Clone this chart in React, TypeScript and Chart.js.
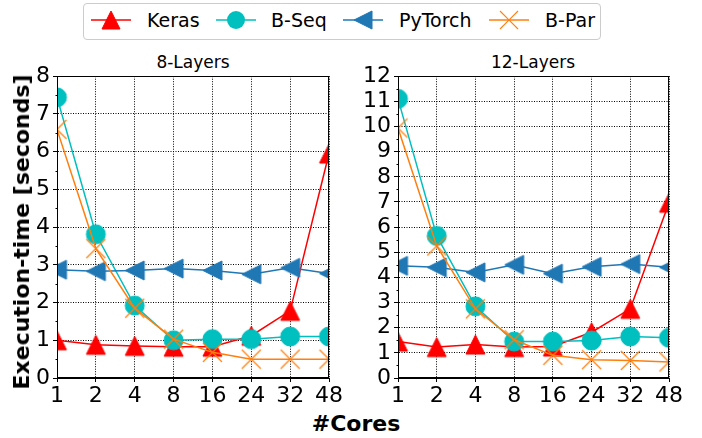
import React, { useEffect, useRef } from 'react';
import { Chart, registerables } from 'chart.js';

Chart.register(...registerables);

// Core counts on the shared x axis
const cores = ['1', '2', '4', '8', '16', '24', '32', '48'];
const seriesNames = ['Keras', 'B-Seq', 'PyTorch', 'B-Par'];
const seriesColors = ['#ff0000', '#00bfbf', '#1f77b4', '#ff7f0e'];

// 8-layer network, execution time in seconds
const keras8 = [1.0, 0.88, 0.85, 0.83, 0.83, 1.12, 1.78, 5.95];
const bseq8 = [7.44, 3.81, 1.92, 1.0, 1.03, 1.03, 1.1, 1.1];
const pytorch8 = [2.87, 2.83, 2.85, 2.9, 2.85, 2.75, 2.92, 2.77];
const bpar8 = [6.59, 3.43, 1.85, 1.03, 0.68, 0.5, 0.5, 0.5];

// 12-layer network, execution time in seconds
const keras12 = [1.45, 1.23, 1.33, 1.23, 1.25, 1.82, 2.75, 6.97];
const bseq12 = [11.1, 5.65, 2.85, 1.45, 1.45, 1.49, 1.65, 1.6];
const pytorch12 = [4.46, 4.4, 4.2, 4.5, 4.15, 4.42, 4.53, 4.4];
const bpar12 = [9.94, 5.25, 2.75, 1.52, 0.9, 0.73, 0.7, 0.64];

const yMax8 = 8;
const yMax12 = 12;

const FONT = "'DejaVu Sans', sans-serif";
const MARKER_KINDS = ['up', 'circle', 'left', 'x'];

function makeMarker(kind: string, color: string, size: number): HTMLCanvasElement {
  const dim = Math.ceil(size) + 4;
  const c = document.createElement('canvas');
  c.width = dim;
  c.height = dim;
  const ctx = c.getContext('2d')!;
  const m = dim / 2;
  const h = size / 2;
  ctx.fillStyle = color;
  ctx.strokeStyle = color;
  ctx.lineWidth = 1;
  ctx.beginPath();
  if (kind === 'up') {
    ctx.moveTo(m, m - h);
    ctx.lineTo(m - h, m + h);
    ctx.lineTo(m + h, m + h);
    ctx.closePath();
    ctx.fill();
    ctx.stroke();
  } else if (kind === 'left') {
    ctx.moveTo(m - h, m);
    ctx.lineTo(m + h, m - h);
    ctx.lineTo(m + h, m + h);
    ctx.closePath();
    ctx.fill();
    ctx.stroke();
  } else if (kind === 'circle') {
    ctx.arc(m, m, h, 0, Math.PI * 2);
    ctx.fill();
    ctx.stroke();
  } else {
    ctx.lineWidth = 1.2;
    ctx.moveTo(m - h, m - h);
    ctx.lineTo(m + h, m + h);
    ctx.moveTo(m - h, m + h);
    ctx.lineTo(m + h, m - h);
    ctx.stroke();
  }
  return c;
}

// Solid frame around the plot area plus small minor ticks on the y axis
const framePlugin = {
  id: 'frame',
  afterDatasetsDraw(chart: any) {
    const { ctx, chartArea } = chart;
    const y = chart.scales.y;
    ctx.save();
    ctx.strokeStyle = '#000';
    ctx.lineWidth = 1;
    const l = Math.round(chartArea.left) + 0.5;
    const r = Math.round(chartArea.right) - 0.5;
    const t = Math.round(chartArea.top) + 0.5;
    const b = Math.round(chartArea.bottom) - 0.5;
    ctx.strokeRect(l, t, r - l, b - t);
    ctx.beginPath();
    for (let v = 0.5; v < y.max; v += 1) {
      const py = Math.round(y.getPixelForValue(v)) + 0.5;
      ctx.moveTo(l - 2, py);
      ctx.lineTo(l, py);
    }
    ctx.stroke();
    ctx.restore();
  },
};

function buildChart(
  canvas: HTMLCanvasElement,
  values: number[][],
  yMax: number,
  axisWidth: number,
  padRight: number
) {
  const markers = MARKER_KINDS.map((k, i) => makeMarker(k, seriesColors[i], 19));
  const datasets = values.map((data, i) => ({
    label: seriesNames[i],
    data,
    borderColor: seriesColors[i],
    backgroundColor: seriesColors[i],
    borderWidth: 1.5,
    pointStyle: markers[i],
    pointRadius: 10,
    tension: 0,
    clip: 0,
    order: 4 - i,
  }));
  const gridCommon = {
    color: '#000',
    lineWidth: 1,
    drawTicks: true,
    tickLength: 4,
    tickColor: '#000',
    tickBorderDash: [],
  };
  return new Chart(canvas, {
    type: 'line',
    data: { labels: cores, datasets },
    plugins: [framePlugin],
    options: {
      animation: false,
      responsive: false,
      maintainAspectRatio: false,
      layout: { padding: { top: 15, right: padRight, left: 0, bottom: 0 } },
      plugins: { legend: { display: false }, tooltip: { enabled: false } },
      scales: {
        x: {
          type: 'category',
          offset: false,
          grid: { ...gridCommon, offset: false },
          border: { display: true, color: '#000', dash: [1, 1.5] },
          ticks: {
            font: { family: FONT, size: 22 },
            color: '#000',
            padding: 1,
            maxRotation: 0,
            autoSkip: false,
          },
          afterFit: (s: any) => {
            s.height = 32;
          },
        },
        y: {
          min: 0,
          max: yMax,
          grid: gridCommon,
          border: { display: true, color: '#000', dash: [1, 1.5] },
          ticks: {
            stepSize: 1,
            autoSkip: false,
            font: { family: FONT, size: 22 },
            color: '#000',
            padding: 3,
          },
          afterFit: (s: any) => {
            s.width = axisWidth;
          },
        },
      },
    } as any,
  });
}

function LegendIcon({ kind, color }: { kind: string; color: string }) {
  let mark: React.ReactNode = null;
  if (kind === 'up') mark = <polygon points="20,3 11,21 29,21" fill={color} stroke={color} />;
  else if (kind === 'circle') mark = <circle cx="20" cy="12" r="9" fill={color} />;
  else if (kind === 'left') mark = <polygon points="11,12 29,3 29,21" fill={color} stroke={color} />;
  else
    mark = (
      <g stroke={color} strokeWidth="1.1">
        <line x1="11" y1="3" x2="29" y2="21" />
        <line x1="11" y1="21" x2="29" y2="3" />
      </g>
    );
  return (
    <svg width="40" height="24" viewBox="0 0 40 24" style={{ display: 'block' }}>
      <line x1="0" y1="12" x2="40" y2="12" stroke={color} strokeWidth="1.5" />
      {mark}
    </svg>
  );
}

const legendIconX = [91, 216, 343, 489];
const legendTextX = [147, 271, 399, 545];

export default function App() {
  const leftRef = useRef<HTMLCanvasElement>(null);
  const rightRef = useRef<HTMLCanvasElement>(null);

  useEffect(() => {
    const a = buildChart(leftRef.current!, [keras8, bseq8, pytorch8, bpar8], yMax8, 57, 16);
    const b = buildChart(rightRef.current!, [keras12, bseq12, pytorch12, bpar12], yMax12, 53, 33);
    return () => {
      a.destroy();
      b.destroy();
    };
  }, []);

  const text: React.CSSProperties = {
    position: 'absolute',
    fontFamily: FONT,
    color: '#000',
    whiteSpace: 'nowrap',
    lineHeight: 1,
  };

  return (
    <div
      style={{
        position: 'fixed',
        left: 0,
        top: 0,
        width: 702,
        height: 438,
        background: '#fff',
        overflow: 'hidden',
      }}
    >
      <div
        style={{
          position: 'absolute',
          left: 83,
          top: 3,
          width: 518,
          height: 37,
          border: '1px solid #cccccc',
          borderRadius: 4,
          boxSizing: 'border-box',
        }}
      />
      {seriesNames.map((name, i) => (
        <React.Fragment key={name}>
          <div style={{ position: 'absolute', left: legendIconX[i], top: 8 }}>
            <LegendIcon kind={MARKER_KINDS[i]} color={seriesColors[i]} />
          </div>
          <div style={{ ...text, left: legendTextX[i], top: 20, fontSize: 19, transform: 'translateY(-50%)' }}>
            {name}
          </div>
        </React.Fragment>
      ))}

      <div style={{ ...text, left: 193, top: 62, fontSize: 17, transform: 'translate(-50%,-50%)' }}>8-Layers</div>
      <div style={{ ...text, left: 533, top: 62, fontSize: 17, transform: 'translate(-50%,-50%)' }}>12-Layers</div>

      <canvas
        ref={leftRef}
        width={345}
        height={350}
        style={{ position: 'absolute', left: 0, top: 60, width: 345, height: 350 }}
      />
      <canvas
        ref={rightRef}
        width={357}
        height={350}
        style={{ position: 'absolute', left: 345, top: 60, width: 357, height: 350 }}
      />

      <div
        style={{
          ...text,
          left: 22,
          top: 232,
          fontSize: 22,
          fontWeight: 'bold',
          transform: 'translate(-50%,-50%) rotate(-90deg)',
        }}
      >
        Execution-time [seconds]
      </div>
      <div style={{ ...text, left: 356, top: 424, fontSize: 22, fontWeight: 'bold', transform: 'translate(-50%,-50%)' }}>
        #Cores
      </div>
    </div>
  );
}
